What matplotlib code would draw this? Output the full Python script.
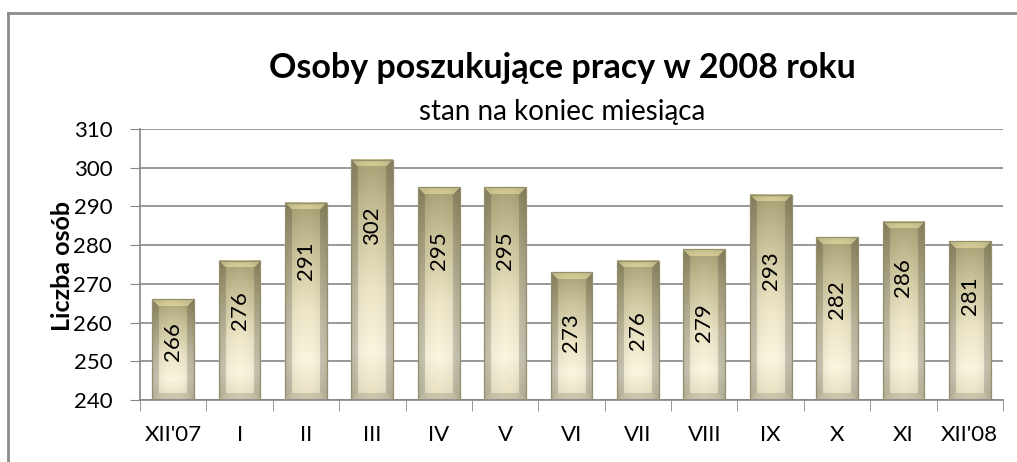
import numpy as np
import matplotlib
matplotlib.use('Agg')
import matplotlib.pyplot as plt
from matplotlib.lines import Line2D

# dane: liczba osob poszukujacych pracy (stan na koniec miesiaca)
months = ["XII'07", 'I', 'II', 'III', 'IV', 'V', 'VI', 'VII', 'VIII', 'IX', 'X', 'XI', "XII'08"]
counts = [266, 276, 291, 302, 295, 295, 273, 276, 279, 293, 282, 286, 281]
y_ticks = [240, 250, 260, 270, 280, 290, 300, 310]

# where Excel put the rotated value labels (data units)
label_pos = [255, 263, 276, 285, 278.5, 278.5, 257.3, 258, 260, 273.3, 266, 271.5, 267]

plt.rcParams['font.family'] = ['Lato', 'DejaVu Sans']
grey = '#868686'

fig = plt.figure(figsize=(10.17, 4.62), dpi=100)
ax = fig.add_axes([140/1017, 1 - 400/462, 863/1017, 271/462])
ax.set_xlim(-0.5, len(months) - 0.5)
ax.set_ylim(y_ticks[0], y_ticks[-1])

# gradient colour stops, t=0 bottom of bar, t=1 top
stop_t = [0.0, 0.2, 0.45, 0.75, 1.0]
stop_c = np.array([[0.90, 0.87, 0.75],
                   [0.98, 0.96, 0.87],
                   [0.93, 0.90, 0.78],
                   [0.80, 0.77, 0.61],
                   [0.66, 0.63, 0.46]])


def bar_img(nr, nc, bev=7):
    t = np.linspace(1, 0, nr)
    base = np.stack([np.interp(t, stop_t, stop_c[:, k]) for k in range(3)], -1)
    img = np.repeat(base[:, None, :], nc, axis=1)
    u = np.linspace(0, 1, nc)
    img = img * (1 - 0.10 * ((u - 0.5) * 2) ** 2)[None, :, None]
    ii, jj = np.mgrid[0:nr, 0:nc]
    d = np.stack([ii, nr - 1 - ii, jj, nc - 1 - jj])
    near = d.argmin(0)
    inb = d.min(0) < bev
    fac = np.array([1.22, 0.88, 0.84, 0.84])[near]
    img[inb] = img[inb] * fac[inb][:, None]
    return np.clip(img, 0, 1)


x = np.arange(len(months))
bars = ax.bar(x, counts, width=0.63, color='none', edgecolor='#948f6c', lw=0.9, zorder=3)
fig.canvas.draw()
for b in bars:
    x0, x1 = b.get_x(), b.get_x() + b.get_width()
    y1 = b.get_y() + b.get_height()
    p0 = ax.transData.transform((x0, y_ticks[0]))
    p1 = ax.transData.transform((x1, y1))
    nc = max(int(round(p1[0] - p0[0])), 2)
    nr = max(int(round(p1[1] - p0[1])), 2)
    ax.imshow(bar_img(nr, nc), extent=[x0, x1, y_ticks[0], y1], aspect='auto',
              interpolation='bilinear', zorder=2)

ax.set_xlim(-0.5, len(months) - 0.5)
ax.set_ylim(y_ticks[0], y_ticks[-1])

for i, v in enumerate(counts):
    ax.text(x[i], label_pos[i], str(v), rotation=90, ha='center', va='center',
            fontsize=16, color='black', zorder=4)

# osie
ax.set_yticks(y_ticks)
ax.tick_params(axis='y', direction='out', length=7, color=grey, labelsize=16, pad=13)
ax.set_xticks(x)
ax.set_xticklabels(months)
ax.set_xticks(np.arange(-0.5, len(months), 1), minor=True)
ax.tick_params(axis='x', which='major', length=0, labelsize=16, pad=18)
ax.tick_params(axis='x', which='minor', direction='out', length=8, color=grey)
ax.yaxis.grid(True, color=grey, lw=1.2)
ax.set_axisbelow(True)
for s in ['top', 'right']:
    ax.spines[s].set_visible(False)
for s in ['left', 'bottom']:
    ax.spines[s].set_color(grey)
    ax.spines[s].set_linewidth(1.2)

fig.text(0.553, 1 - 68/462, 'Osoby poszukujące pracy w 2008 roku', ha='center', va='center',
         fontsize=24.5, fontweight='bold')
fig.text(0.553, 1 - 112/462, 'stan na koniec miesiąca', ha='center', va='center', fontsize=20)
fig.text(63/1017, 1 - 266/462, 'Liczba osób', rotation=90, ha='center', va='center',
         fontsize=18, fontweight='bold')

# ramka wykresu
fig.add_artist(Line2D([8/1017, 8/1017], [0, 1 - 13/462], color='#8c8c8c', lw=2))
fig.add_artist(Line2D([8/1017, 1], [1 - 13/462, 1 - 13/462], color='#8c8c8c', lw=2))

fig.savefig('out.png', dpi=100)
